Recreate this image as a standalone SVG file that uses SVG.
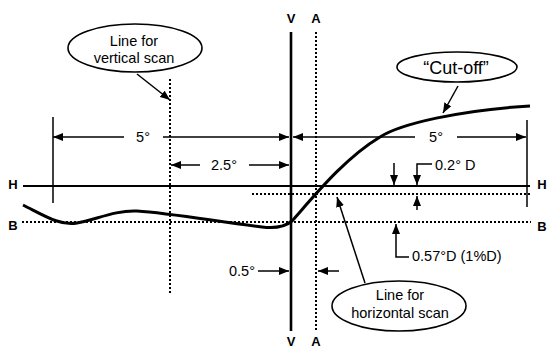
<svg xmlns="http://www.w3.org/2000/svg" width="548" height="350" viewBox="0 0 548 350">
<style>
text{font-family:"Liberation Sans",Arial,sans-serif;fill:#000}
.t{font-size:14.5px}
.c{text-anchor:middle}
.b{font-weight:bold;font-size:13px;text-anchor:middle}
.dim{stroke:#000;stroke-width:1.5;fill:none}
.dot{stroke:#000;stroke-width:2;stroke-dasharray:2 2;fill:none}
.bub{fill:#fff;stroke:#000;stroke-width:1.6}
</style>
<defs>
<marker id="ah" viewBox="0 0 10 8" refX="10" refY="4" markerWidth="10" markerHeight="8" markerUnits="userSpaceOnUse" orient="auto">
<path d="M0,0 L10,4 L0,8 Z" fill="#000"/>
</marker>
</defs>
<rect width="548" height="350" fill="#fff"/>
<g id="reference-lines">
<line x1="23" y1="186" x2="530" y2="186" stroke="#000" stroke-width="2.2"/>
<line class="dot" x1="22" y1="222" x2="531" y2="222"/>
<line class="dot" x1="252" y1="194" x2="531" y2="194"/>
<line x1="291" y1="32" x2="291" y2="331" stroke="#000" stroke-width="2.6"/>
<line class="dot" x1="316" y1="32" x2="316" y2="331"/>
<line class="dot" x1="170" y1="79" x2="170" y2="294"/>
<text class="b" x="291" y="23">V</text>
<text class="b" x="316" y="23">A</text>
<text class="b" x="291" y="346">V</text>
<text class="b" x="316" y="346">A</text>
<text class="b" x="13" y="189">H</text>
<text class="b" x="542" y="189">H</text>
<text class="b" x="13" y="230">B</text>
<text class="b" x="542" y="231">B</text>
</g>
<g id="cutoff-curve">
<path d="M23,205 C45,216 60,226 77,223 C95,220 115,210 137,211 C170,213 220,222 262,227 C278,229 286,226 292,221 C315,195 345,158 380,137 C400,124 460,110 530,106" fill="none" stroke="#000" stroke-width="3"/>
</g>
<g id="connectors">
<line class="dim" x1="53" y1="117" x2="53" y2="203"/>
<line class="dim" x1="527" y1="120" x2="527" y2="207"/>
<line class="dim" x1="124" y1="137" x2="53" y2="137" marker-end="url(#ah)"/>
<line class="dim" x1="163" y1="137" x2="289" y2="137" marker-end="url(#ah)"/>
<line class="dim" x1="415" y1="137" x2="293" y2="137" marker-end="url(#ah)"/>
<line class="dim" x1="457" y1="137" x2="526" y2="137" marker-end="url(#ah)"/>
<line class="dim" x1="200" y1="165" x2="171" y2="165" marker-end="url(#ah)"/>
<line class="dim" x1="249" y1="165" x2="289" y2="165" marker-end="url(#ah)"/>
<line class="dim" x1="258" y1="271" x2="289" y2="271" marker-end="url(#ah)"/>
<line class="dim" x1="339" y1="271" x2="318" y2="271" marker-end="url(#ah)"/>
<line class="dim" x1="394" y1="163" x2="394" y2="185" marker-end="url(#ah)"/>
<path class="dim" d="M432,164 H417 V185" marker-end="url(#ah)"/>
<line class="dim" x1="417" y1="210" x2="417" y2="196" marker-end="url(#ah)"/>
<path class="dim" d="M409,257 H396 V224" marker-end="url(#ah)"/>
<line class="dim" x1="137" y1="74" x2="170" y2="100" marker-end="url(#ah)"/>
<line class="dim" x1="458" y1="86" x2="443" y2="113" marker-end="url(#ah)"/>
<line class="dim" x1="365" y1="283" x2="337" y2="197" marker-end="url(#ah)"/>
</g>
<g id="dimension-labels">
<text class="t c" x="143" y="142">5°</text>
<text class="t c" x="436" y="142">5°</text>
<text class="t c" x="224" y="170">2.5°</text>
<text class="t" x="229" y="276">0.5°</text>
<text class="t" x="435" y="170">0.2° D</text>
<text class="t" x="412" y="261">0.57°D (1%D)</text>
</g>
<g id="vertical-scan-callout">
<ellipse class="bub" cx="135" cy="48" rx="67" ry="24"/>
<text class="t c" x="134" y="46">Line for</text>
<text class="t c" x="134" y="63">vertical scan</text>
</g>
<g id="cutoff-callout">
<ellipse class="bub" cx="457" cy="67" rx="60" ry="15"/>
<text class="c" x="456" y="74" font-size="18">“Cut-off”</text>
</g>
<g id="horizontal-scan-callout">
<ellipse class="bub" cx="399" cy="306" rx="67" ry="25"/>
<text class="t c" x="400" y="300">Line for</text>
<text class="t c" x="400" y="318">horizontal scan</text>
</g>
</svg>
